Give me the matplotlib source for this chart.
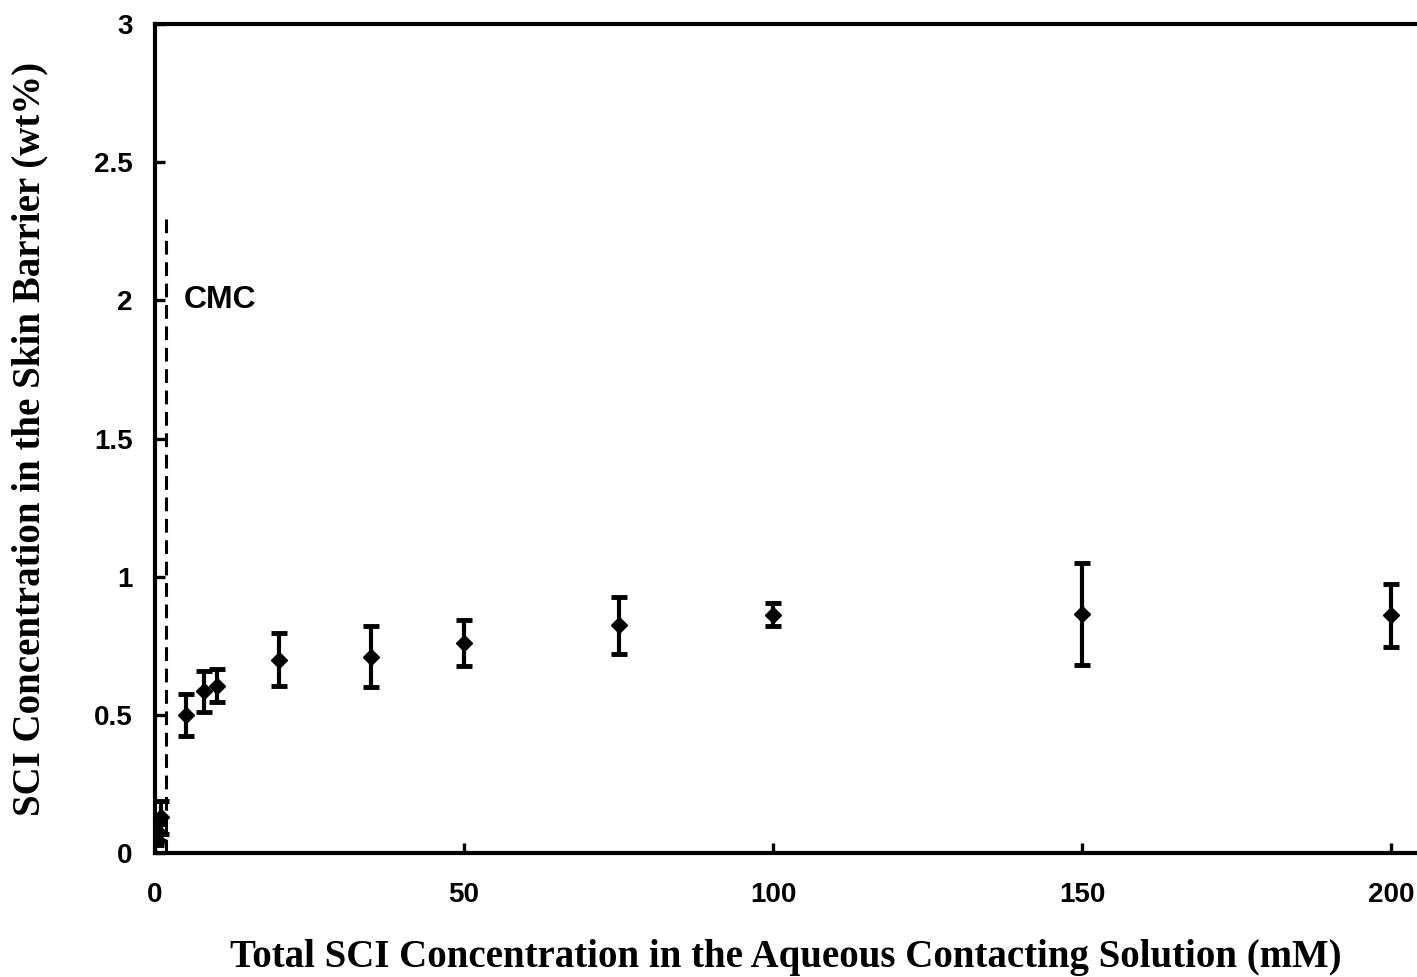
import numpy as np
import matplotlib.pyplot as plt

# SCI uptake into the skin barrier vs. total SCI in the contacting solution
conc_mM = [0.2, 0.5, 1, 5, 8, 10, 20, 35, 50, 75, 100, 150, 200]
uptake_wt = [0.05, 0.075, 0.13, 0.50, 0.585, 0.605, 0.70, 0.71, 0.76, 0.825, 0.862, 0.865, 0.86]
uptake_err = [0.02, 0.03, 0.06, 0.075, 0.075, 0.06, 0.095, 0.11, 0.083, 0.103, 0.042, 0.185, 0.115]
cmc_mM = 1.8
cmc_top = 2.32

plt.rcParams["font.family"] = ["Liberation Sans", "DejaVu Sans"]

fig = plt.figure(figsize=(14.17, 9.77), dpi=100)
ax = fig.add_axes([0.1094, 0.1269, 0.8906, 0.8485])

ax.errorbar(conc_mM, uptake_wt, yerr=uptake_err, fmt="D", color="black",
            markersize=8, elinewidth=3, capsize=6, capthick=3.5, zorder=3)
ax.plot([cmc_mM, cmc_mM], [0, cmc_top], color="black", lw=2.2,
        linestyle=(0, (4.5, 2.5)))
ax.text(4.7, 2.0, "CMC", fontsize=23, fontweight="bold", va="center", ha="left")

ax.set_xlim(0, 204.2)
ax.set_ylim(0, 3)
ax.set_xticks([0, 50, 100, 150, 200])
ax.set_yticks([0, 0.5, 1, 1.5, 2, 2.5, 3])
ax.set_yticklabels(["0", "0.5", "1", "1.5", "2", "2.5", "3"])
ax.tick_params(direction="in", length=7, width=2.4, labelsize=20)
ax.tick_params(axis="x", pad=21)
ax.tick_params(axis="y", pad=16)
for lab in ax.get_xticklabels() + ax.get_yticklabels():
    lab.set_fontweight("bold")

for side in ["left", "bottom", "top"]:
    ax.spines[side].set_linewidth(3)
ax.spines["right"].set_visible(False)

ax.set_xlabel("Total SCI Concentration in the Aqueous Contacting Solution (mM)",
              fontsize=28, fontweight="bold", family="Liberation Serif", labelpad=22)
ax.set_ylabel("SCI Concentration in the Skin Barrier (wt%)",
              fontsize=28, fontweight="bold", family="Liberation Serif", labelpad=33)

fig.savefig("out.png", dpi=100)
